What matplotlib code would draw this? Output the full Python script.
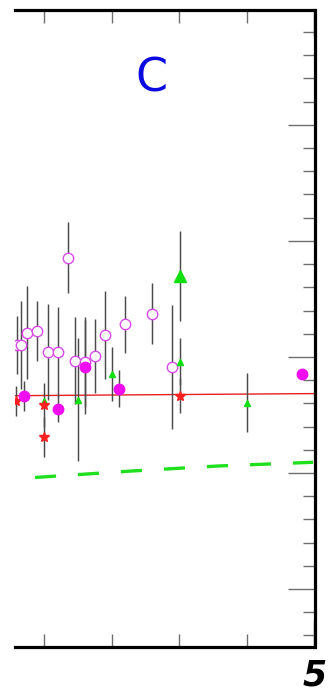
import matplotlib
matplotlib.use("Agg")
import matplotlib.pyplot as plt
from matplotlib.ticker import FixedLocator

plt.rcParams['font.family'] = ['DejaVu Sans']
plt.rcParams['lines.scale_dashes'] = False

# Open circles (magenta outline) with symmetric errors
open_x = [0.596, 0.655, 0.753, 0.901, 1.055, 1.203, 1.355, 1.454, 1.607, 1.754, 1.902, 2.203, 2.602, 2.898]
open_y = [2.103, 2.103, 2.209, 2.227, 2.043, 2.043, 2.856, 1.966, 1.957, 2.009, 2.190, 2.282, 2.373, 1.911]
open_err = [0.25, 0.379, 0.401, 0.259, 0.414, 0.39, 0.306, 0.375, 0.39, 0.319, 0.379, 0.246, 0.263, 0.534]

# Filled magenta circles
filled_x = [0.704, 1.203, 1.607, 2.109, 4.812]
filled_y = [1.664, 1.552, 1.914, 1.727, 1.851]
filled_err = [0.129, 0.11, 0.405, 0.157, 0.0]

# Green triangles (small and large)
tri_small_x = [1.004, 1.499, 2.001, 3.012, 4.003]
tri_small_y = [1.621, 1.629, 1.853, 1.960, 1.606]
tri_small_err = [0.0, 0.530, 0.23, 0.20, 0.253]
tri_big_x = [3.012]
tri_big_y = [2.698]
tri_big_err = [0.388]

# Red stars
star_x = [0.586, 1.004, 1.004, 3.012]
star_y = [1.621, 1.586, 1.308, 1.666]
star_err = [0.129, 0.19, 0.17, 0.15]

# Reference lines
red_line_x = [0.571, 5.0]
red_line_y = [1.666, 1.684]
green_line_x = [0.867, 2.302, 3.574, 4.979]
green_line_y = [0.961, 1.017, 1.060, 1.092]

x_limits = (0.571, 5.0)
y_limits = (-0.5, 4.99)
x_major = [5]
x_major_labels = ['5']
x_minor = [1, 2, 3, 4]
y_major = [0, 1, 2, 3, 4]
y_minor = [v / 5 for v in range(-2, 25) if v % 5 != 0]

fig = plt.figure(figsize=(3.28, 6.93), dpi=100)
ax = fig.add_axes([15 / 328, 46 / 693, 299.5 / 328, 637 / 693])
ax.set_xlim(*x_limits)
ax.set_ylim(*y_limits)

err_kw = dict(ecolor='#4a4a4a', elinewidth=1.05, capsize=0, linestyle='none', zorder=3)

ax.plot(green_line_x, green_line_y, color='#1ee01e', lw=2.4, dashes=(15.2, 15.8), zorder=2)
ax.plot(red_line_x, red_line_y, color='#e82020', lw=1.0, zorder=2)

ax.errorbar(open_x, open_y, yerr=open_err, fmt='o', ms=7.5, mfc='white', mec='#d84ae8', mew=1.0, **err_kw)
ax.errorbar(tri_small_x, tri_small_y, yerr=tri_small_err, fmt='^', ms=4.8, mfc='#10e010', mec='#10e010', **err_kw)
ax.errorbar(tri_big_x, tri_big_y, yerr=tri_big_err, fmt='^', ms=8, mfc='#10e010', mec='#10e010', **err_kw)
ax.errorbar(star_x, star_y, yerr=star_err, fmt='*', ms=7.8, mfc='#ff2020', mec='#ff2020', **err_kw)
ax.errorbar(filled_x, filled_y, yerr=filled_err, fmt='o', ms=7.5, mfc='#f20cf2', mec='#f20cf2', **err_kw)

# Frame: no left spine, heavy top/bottom/right
ax.spines['left'].set_visible(False)
for side in ('top', 'bottom', 'right'):
    ax.spines[side].set_linewidth(2.3)
    ax.spines[side].set_color('black')

ax.xaxis.set_major_locator(FixedLocator(x_major))
ax.set_xticklabels(x_major_labels)
ax.xaxis.set_minor_locator(FixedLocator(x_minor))
ax.yaxis.set_major_locator(FixedLocator(y_major))
ax.yaxis.set_minor_locator(FixedLocator(y_minor))

ax.tick_params(axis='x', which='both', direction='in', top=True, bottom=True,
               color='#6e6e6e', width=1.0)
ax.tick_params(axis='x', which='minor', length=9.4)
ax.tick_params(axis='x', which='major', length=19, pad=8, labelsize=25)
for lab in ax.get_xticklabels():
    lab.set_fontweight('bold')
    lab.set_fontstyle('italic')
    lab.set_x(5.03)

ax.tick_params(axis='y', which='both', direction='in', left=False, right=True,
               labelleft=False, labelright=False, color='#6e6e6e', width=1.0)
ax.tick_params(axis='y', which='major', length=19.5)
ax.tick_params(axis='y', which='minor', length=8.6)

fig.text(151 / 328, 1 - 79 / 693, 'C', color='#0a0ae0', fontsize=33,
         ha='center', va='center')

fig.savefig('out.png', dpi=100)
